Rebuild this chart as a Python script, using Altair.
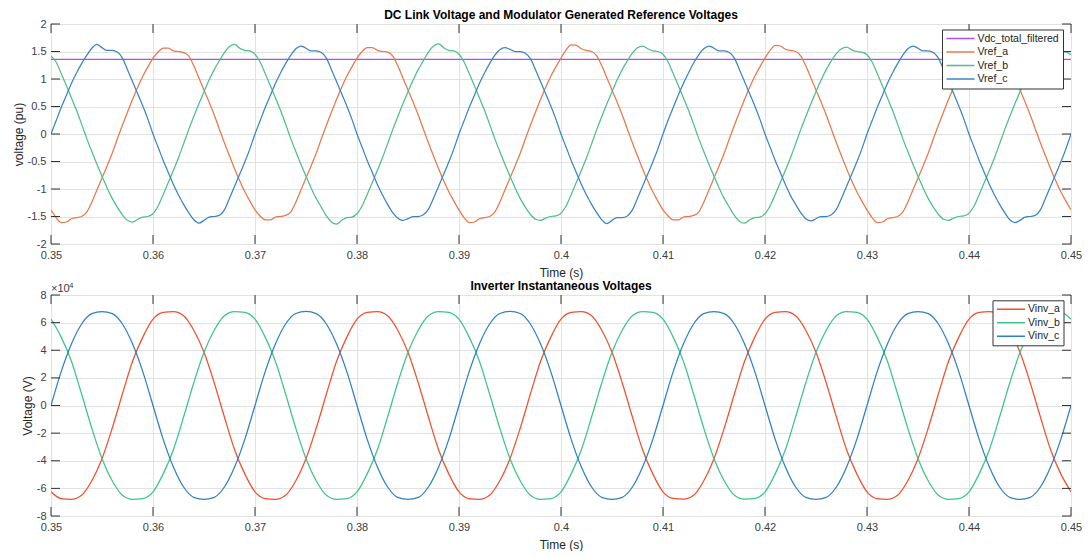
import altair as alt
import pandas as pd

# ---------------- text ----------------
TITLE_TOP = "DC Link Voltage and Modulator Generated Reference Voltages"
TITLE_BOT = "Inverter Instantaneous Voltages"
XTITLE = "Time (s)"
YTITLE_TOP = "voltage (pu)"
YTITLE_BOT = "Voltage (V)"
EXP_LABEL = "\u00d710"
EXP_POWER = "4"

# ---------------- sampling grids (s) ----------------
t_top = [round(0.35 + 0.0005 * i, 4) for i in range(201)]
t_bot = [round(0.35 + 0.001 * i, 3) for i in range(101)]

# ---------------- top panel (pu) ----------------
vdc_t = [0.35, 0.375, 0.40, 0.425, 0.45]
vdc_total_filtered = [1.357, 1.358, 1.358, 1.359, 1.359]

vref_a = [
    -1.38, -1.52, -1.61, -1.60, -1.54, -1.52, -1.50, -1.42, -1.24, -1.02, -0.80, -0.58, -0.35, -0.09,
    0.16, 0.40, 0.63, 0.85, 1.05, 1.22, 1.38, 1.49, 1.56, 1.56, 1.51, 1.50, 1.48, 1.42, 1.24, 1.02, 0.80, 0.58, 0.35, 0.09,
    -0.16, -0.40, -0.63, -0.85, -1.05, -1.22, -1.38, -1.49, -1.56, -1.56, -1.51, -1.50, -1.48, -1.42, -1.24, -1.02, -0.80, -0.58, -0.35, -0.09,
    0.16, 0.40, 0.63, 0.85, 1.05, 1.22, 1.38, 1.50, 1.57, 1.57, 1.52, 1.50, 1.49, 1.42, 1.24, 1.02, 0.80, 0.58, 0.35, 0.09,
    -0.16, -0.40, -0.63, -0.85, -1.05, -1.22, -1.38, -1.52, -1.61, -1.60, -1.54, -1.52, -1.50, -1.42, -1.24, -1.02, -0.80, -0.58, -0.35, -0.09,
    0.16, 0.40, 0.63, 0.85, 1.05, 1.22, 1.38, 1.53, 1.62, 1.61, 1.55, 1.52, 1.50, 1.42, 1.24, 1.02, 0.80, 0.58, 0.35, 0.09,
    -0.16, -0.40, -0.63, -0.85, -1.05, -1.22, -1.38, -1.49, -1.56, -1.56, -1.51, -1.50, -1.48, -1.42, -1.24, -1.02, -0.80, -0.58, -0.35, -0.09,
    0.16, 0.40, 0.63, 0.85, 1.05, 1.22, 1.38, 1.52, 1.61, 1.60, 1.54, 1.52, 1.50, 1.42, 1.24, 1.02, 0.80, 0.58, 0.35, 0.09,
    -0.16, -0.40, -0.63, -0.85, -1.05, -1.22, -1.38, -1.52, -1.61, -1.60, -1.54, -1.52, -1.50, -1.42, -1.24, -1.02, -0.80, -0.58, -0.35, -0.09,
    0.16, 0.40, 0.63, 0.85, 1.05, 1.22, 1.38, 1.49, 1.56, 1.57, 1.51, 1.50, 1.48, 1.42, 1.24, 1.02, 0.80, 0.58, 0.35, 0.09,
    -0.16, -0.40, -0.63, -0.85, -1.05, -1.22, -1.38,
]

vref_b = [
    1.42, 1.31, 1.10, 0.88, 0.66, 0.43, 0.18,
    -0.08, -0.32, -0.55, -0.77, -0.98, -1.17, -1.33, -1.47, -1.57, -1.60, -1.55, -1.51, -1.50, -1.45, -1.31, -1.10, -0.88, -0.66, -0.43, -0.18,
    0.08, 0.32, 0.55, 0.77, 0.98, 1.17, 1.33, 1.48, 1.59, 1.63, 1.56, 1.52, 1.51, 1.45, 1.31, 1.10, 0.88, 0.66, 0.43, 0.18,
    -0.08, -0.32, -0.55, -0.77, -0.98, -1.17, -1.33, -1.49, -1.60, -1.64, -1.57, -1.52, -1.51, -1.45, -1.31, -1.10, -0.88, -0.66, -0.43, -0.18,
    0.08, 0.32, 0.55, 0.77, 0.98, 1.17, 1.33, 1.49, 1.60, 1.64, 1.57, 1.52, 1.51, 1.45, 1.31, 1.10, 0.88, 0.66, 0.43, 0.18,
    -0.08, -0.32, -0.55, -0.77, -0.98, -1.17, -1.33, -1.46, -1.55, -1.57, -1.53, -1.50, -1.49, -1.44, -1.31, -1.10, -0.88, -0.66, -0.43, -0.18,
    0.08, 0.32, 0.55, 0.77, 0.98, 1.17, 1.33, 1.47, 1.57, 1.60, 1.55, 1.51, 1.50, 1.45, 1.31, 1.10, 0.88, 0.66, 0.43, 0.18,
    -0.08, -0.32, -0.55, -0.77, -0.98, -1.17, -1.33, -1.48, -1.59, -1.62, -1.56, -1.52, -1.51, -1.45, -1.31, -1.10, -0.88, -0.66, -0.43, -0.18,
    0.08, 0.32, 0.55, 0.77, 0.98, 1.17, 1.33, 1.46, 1.55, 1.58, 1.53, 1.50, 1.49, 1.44, 1.31, 1.10, 0.88, 0.66, 0.43, 0.18,
    -0.08, -0.32, -0.55, -0.77, -0.98, -1.17, -1.33, -1.46, -1.55, -1.57, -1.53, -1.50, -1.49, -1.44, -1.31, -1.10, -0.88, -0.66, -0.43, -0.18,
    0.08, 0.32, 0.55, 0.77, 0.98, 1.17, 1.33, 1.46, 1.55, 1.57, 1.53, 1.50, 1.49, 1.44,
]

vref_c = [
    0.00, 0.24, 0.48, 0.70, 0.92, 1.11, 1.28, 1.43, 1.56, 1.63, 1.57, 1.52, 1.52, 1.49, 1.38, 1.17, 0.95, 0.73, 0.51, 0.27,
    0.00, -0.24, -0.48, -0.70, -0.92, -1.11, -1.28, -1.43, -1.56, -1.62, -1.57, -1.51, -1.50, -1.48, -1.38, -1.17, -0.95, -0.73, -0.51, -0.27,
    0.00, 0.24, 0.48, 0.70, 0.92, 1.11, 1.28, 1.43, 1.55, 1.60, 1.56, 1.51, 1.51, 1.48, 1.38, 1.17, 0.95, 0.73, 0.51, 0.27,
    0.00, -0.24, -0.48, -0.70, -0.92, -1.11, -1.28, -1.43, -1.53, -1.57, -1.54, -1.50, -1.50, -1.47, -1.37, -1.17, -0.95, -0.73, -0.51, -0.27,
    0.00, 0.24, 0.48, 0.70, 0.92, 1.11, 1.28, 1.43, 1.53, 1.57, 1.54, 1.50, 1.50, 1.47, 1.37, 1.17, 0.95, 0.73, 0.51, 0.27,
    0.00, -0.24, -0.48, -0.70, -0.92, -1.11, -1.28, -1.43, -1.56, -1.63, -1.57, -1.52, -1.52, -1.49, -1.38, -1.17, -0.95, -0.73, -0.51, -0.27,
    0.00, 0.25, 0.48, 0.71, 0.92, 1.11, 1.29, 1.44, 1.55, 1.60, 1.56, 1.51, 1.51, 1.48, 1.38, 1.17, 0.95, 0.73, 0.51, 0.27,
    0.00, -0.24, -0.48, -0.70, -0.92, -1.12, -1.28, -1.43, -1.54, -1.58, -1.54, -1.50, -1.50, -1.47, -1.37, -1.17, -0.95, -0.73, -0.51, -0.27,
    0.00, 0.24, 0.48, 0.70, 0.92, 1.11, 1.28, 1.43, 1.55, 1.60, 1.56, 1.51, 1.51, 1.48, 1.38, 1.17, 0.95, 0.73, 0.51, 0.27,
    0.00, -0.24, -0.48, -0.70, -0.92, -1.11, -1.28, -1.43, -1.56, -1.61, -1.57, -1.51, -1.50, -1.48, -1.38, -1.17, -0.95, -0.73, -0.51, -0.27,
    0.00,
]

# ---------------- bottom panel (units of 1e4 V) ----------------
vinv_a = [
    -6.25, -6.74, -6.79, -6.50, -5.45, -3.85, -1.65,
    0.83, 3.20, 4.95, 6.25, 6.74, 6.79, 6.50, 5.45, 3.85, 1.65,
    -0.83, -3.20, -4.95, -6.25, -6.74, -6.79, -6.50, -5.45, -3.85, -1.65,
    0.83, 3.20, 4.95, 6.25, 6.75, 6.80, 6.50, 5.45, 3.85, 1.65,
    -0.83, -3.20, -4.95, -6.25, -6.74, -6.79, -6.50, -5.45, -3.85, -1.65,
    0.83, 3.20, 4.95, 6.25, 6.74, 6.79, 6.50, 5.45, 3.85, 1.65,
    -0.83, -3.20, -4.95, -6.25, -6.73, -6.78, -6.50, -5.45, -3.85, -1.65,
    0.83, 3.20, 4.95, 6.25, 6.74, 6.79, 6.50, 5.45, 3.85, 1.65,
    -0.83, -3.20, -4.95, -6.25, -6.74, -6.79, -6.50, -5.45, -3.85, -1.65,
    0.83, 3.20, 4.95, 6.25, 6.74, 6.79, 6.50, 5.45, 3.85, 1.65,
    -0.83, -3.20, -4.95, -6.25,
]

vinv_b = [
    6.25, 4.95, 3.20, 0.83,
    -1.65, -3.85, -5.45, -6.50, -6.79, -6.74, -6.25, -4.95, -3.20, -0.83,
    1.65, 3.85, 5.45, 6.50, 6.79, 6.74, 6.25, 4.95, 3.20, 0.83,
    -1.65, -3.85, -5.45, -6.50, -6.79, -6.74, -6.25, -4.95, -3.20, -0.83,
    1.65, 3.85, 5.45, 6.50, 6.80, 6.75, 6.25, 4.95, 3.20, 0.83,
    -1.65, -3.85, -5.45, -6.50, -6.79, -6.74, -6.25, -4.95, -3.20, -0.83,
    1.65, 3.85, 5.45, 6.50, 6.79, 6.74, 6.25, 4.95, 3.20, 0.83,
    -1.65, -3.85, -5.45, -6.50, -6.78, -6.73, -6.25, -4.95, -3.20, -0.83,
    1.65, 3.85, 5.45, 6.50, 6.79, 6.74, 6.25, 4.95, 3.20, 0.83,
    -1.65, -3.85, -5.45, -6.50, -6.79, -6.74, -6.25, -4.95, -3.20, -0.83,
    1.65, 3.85, 5.45, 6.50, 6.79, 6.74, 6.25,
]

vinv_c = [
    0.00, 2.45, 4.45, 5.90, 6.65, 6.80, 6.65, 5.90, 4.45, 2.45,
    0.00, -2.45, -4.45, -5.90, -6.65, -6.80, -6.65, -5.90, -4.45, -2.45,
    0.00, 2.45, 4.45, 5.90, 6.66, 6.81, 6.65, 5.90, 4.45, 2.45,
    0.00, -2.45, -4.45, -5.90, -6.65, -6.79, -6.65, -5.90, -4.45, -2.45,
    0.00, 2.45, 4.45, 5.90, 6.66, 6.81, 6.66, 5.90, 4.45, 2.45,
    0.00, -2.45, -4.45, -5.90, -6.65, -6.80, -6.65, -5.90, -4.45, -2.45,
    0.00, 2.45, 4.45, 5.90, 6.65, 6.80, 6.65, 5.90, 4.45, 2.45,
    0.00, -2.45, -4.45, -5.90, -6.65, -6.80, -6.65, -5.90, -4.45, -2.45,
    0.00, 2.45, 4.45, 5.90, 6.65, 6.80, 6.65, 5.90, 4.45, 2.45,
    0.00, -2.45, -4.45, -5.90, -6.65, -6.80, -6.65, -5.90, -4.45, -2.45,
    0.00,
]

# ---------------- axes / legend ----------------
x_ticks = [0.35, 0.36, 0.37, 0.38, 0.39, 0.40, 0.41, 0.42, 0.43, 0.44, 0.45]
y_ticks_top = [-2, -1.5, -1, -0.5, 0, 0.5, 1, 1.5, 2]
y_ticks_bot = [-8, -6, -4, -2, 0, 2, 4, 6, 8]

top_names = ["Vdc_total_filtered", "Vref_a", "Vref_b", "Vref_c"]
top_colors = ["#B24CF5", "#E8784A", "#4CBF8C", "#3B84C4"]
bot_names = ["Vinv_a", "Vinv_b", "Vinv_c"]
bot_colors = ["#F0502E", "#3CC48C", "#2F80C6"]

FONT = "Liberation Sans"
W = 1020
H1 = 220
H2 = 221
TICK = 9
TICK_COLOR = "#333333"

# ---------------- data frames ----------------
rows = []
for t, v in zip(vdc_t, vdc_total_filtered):
    rows.append({"t": t, "v": v, "series": top_names[0]})
for name, vals in zip(top_names[1:], [vref_a, vref_b, vref_c]):
    for t, v in zip(t_top, vals):
        rows.append({"t": t, "v": v, "series": name})
df_top = pd.DataFrame(rows)

rows = []
for name, vals in zip(bot_names, [vinv_a, vinv_b, vinv_c]):
    for t, v in zip(t_bot, vals):
        rows.append({"t": t, "v": v, "series": name})
df_bot = pd.DataFrame(rows)

df_xt = pd.DataFrame({"t": x_ticks})
df_yt_top = pd.DataFrame({"v": y_ticks_top})
df_yt_bot = pd.DataFrame({"v": y_ticks_bot})


def xenc():
    return alt.X(
        "t:Q",
        title=XTITLE,
        scale=alt.Scale(domain=[0.35, 0.45], nice=False, zero=False),
        axis=alt.Axis(values=x_ticks, labelExpr="datum.value + ''",
                      labelPadding=5, titlePadding=7, labelFlush=False,
                      labelOverlap=False),
    )


def yenc(title, ticks, dom):
    return alt.Y(
        "v:Q",
        title=title,
        scale=alt.Scale(domain=dom, nice=False, zero=False),
        axis=alt.Axis(values=ticks, labelExpr="datum.value + ''",
                      labelPadding=5, titlePadding=2, labelFlush=False,
                      labelOverlap=False),
    )


def panel(df, names, colors, ytitle, yticks, ydom, h, title, title_y, legend_xy, df_yt):
    legend = alt.Legend(
        title=None, orient="none", legendX=legend_xy[0], legendY=legend_xy[1],
        direction="vertical", symbolType="stroke", symbolSize=784,
        symbolStrokeWidth=1.4, labelFont=FONT, labelFontSize=10.5,
        labelColor="#222222", labelOffset=2, strokeColor="#333333",
        fillColor="white", padding=3.5, rowPadding=2.5, cornerRadius=0,
        clipHeight=11,
    )
    lines = alt.Chart(df).mark_line(strokeWidth=1.25, interpolate="monotone", clip=True).encode(
        x=xenc(),
        y=yenc(ytitle, yticks, ydom),
        color=alt.Color("series:N", scale=alt.Scale(domain=names, range=colors), legend=legend),
        detail="series:N",
    )
    tx_bot = alt.Chart(df_xt).mark_rule(color=TICK_COLOR, strokeWidth=1).encode(
        x=xenc(), y=alt.value(h), y2=alt.value(h - TICK))
    tx_top = alt.Chart(df_xt).mark_rule(color=TICK_COLOR, strokeWidth=1).encode(
        x=xenc(), y=alt.value(0), y2=alt.value(TICK))
    ty_left = alt.Chart(df_yt).mark_rule(color=TICK_COLOR, strokeWidth=1).encode(
        y=yenc(ytitle, yticks, ydom), x=alt.value(0), x2=alt.value(TICK))
    ty_right = alt.Chart(df_yt).mark_rule(color=TICK_COLOR, strokeWidth=1).encode(
        y=yenc(ytitle, yticks, ydom), x=alt.value(W), x2=alt.value(W - TICK))
    ttl = alt.Chart(pd.DataFrame({"s": [title]})).mark_text(
        align="center", baseline="alphabetic", font=FONT, fontSize=12,
        fontWeight="bold", color="#000000"
    ).encode(text="s:N", x=alt.value(W / 2), y=alt.value(title_y))
    return [lines, tx_bot, tx_top, ty_left, ty_right, ttl]


top_layers = panel(df_top, top_names, top_colors, YTITLE_TOP, y_ticks_top, [-2, 2], H1,
                   TITLE_TOP, -5, (891, 5.5), df_yt_top)
top = alt.layer(*top_layers).properties(width=W, height=H1)

bot_layers = panel(df_bot, bot_names, bot_colors, YTITLE_BOT, y_ticks_bot, [-8, 8], H2,
                   TITLE_BOT, -5.5, (941.5, 5.3), df_yt_bot)

exp1 = alt.Chart(pd.DataFrame({"s": [EXP_LABEL]})).mark_text(
    align="left", baseline="alphabetic", font=FONT, fontSize=11, color="#404040"
).encode(text="s:N", x=alt.value(0), y=alt.value(-3))
exp2 = alt.Chart(pd.DataFrame({"s": [EXP_POWER]})).mark_text(
    align="left", baseline="alphabetic", font=FONT, fontSize=8, color="#404040"
).encode(text="s:N", x=alt.value(18), y=alt.value(-7.5))

bot = alt.layer(*bot_layers, exp1, exp2).properties(width=W, height=H2)

chart = alt.vconcat(top, bot, spacing=0).resolve_scale(
    color="independent"
).resolve_legend(color="independent").properties(
    padding={"left": 3, "top": 0, "right": 0, "bottom": 0}
).configure_view(
    stroke="#333333", strokeWidth=1
).configure_axis(
    labelFont=FONT, labelFontSize=11, labelColor="#404040",
    titleFont=FONT, titleFontSize=12, titleFontWeight="normal", titleColor="#262626",
    gridColor="#e2e2e2", gridWidth=1, domain=False, ticks=False, tickSize=0,
)

chart.save("out.html", embed_options={"renderer": "svg", "actions": False})
